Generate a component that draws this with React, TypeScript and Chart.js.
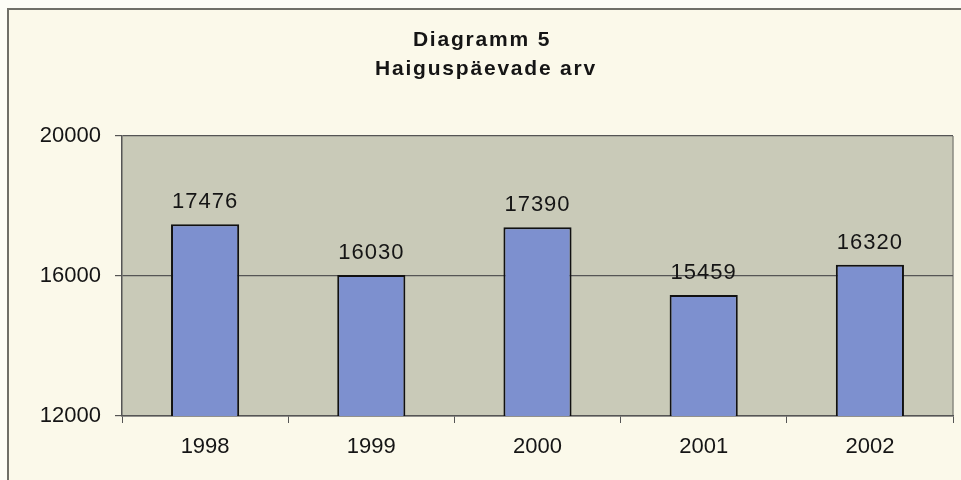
import React, { useEffect, useRef } from "react";
import { Chart, registerables } from "chart.js";

Chart.register(...registerables);

const categories = ["1998", "1999", "2000", "2001", "2002"];
const values = [17476, 16030, 17390, 15459, 16320];
const titleLines = ["Diagramm 5", "Haiguspäevade arv"];
const yMin = 12000;
const yMax = 20000;
const yStep = 4000;

const FONT = "'Liberation Sans', Arial, sans-serif";

const bgPlugin = {
  id: "bgPlugin",
  beforeDraw(chart: any) {
    const { ctx, chartArea, width, height } = chart;
    ctx.save();
    ctx.fillStyle = "#fdfdf6";
    ctx.fillRect(0, 0, width, height);
    ctx.fillStyle = "#fbf9ea";
    ctx.fillRect(8, 9, width - 8, height - 9);
    ctx.fillStyle = "#c9cab8";
    ctx.fillRect(chartArea.left, chartArea.top, chartArea.right - chartArea.left, chartArea.bottom - chartArea.top);
    // plot right border
    ctx.strokeStyle = "#8a8a80";
    ctx.lineWidth = 1.5;
    ctx.beginPath();
    ctx.moveTo(chartArea.right, chartArea.top);
    ctx.lineTo(chartArea.right, chartArea.bottom);
    ctx.stroke();
    // outer frame lines
    ctx.strokeStyle = "#707068";
    ctx.lineWidth = 2;
    ctx.beginPath();
    ctx.moveTo(8, 480);
    ctx.lineTo(8, 9);
    ctx.lineTo(961, 9);
    ctx.stroke();
    // title
    ctx.fillStyle = "#151515";
    ctx.font = `bold 21px ${FONT}`;
    ctx.textAlign = "center";
    ctx.textBaseline = "alphabetic";
    (ctx as any).letterSpacing = "1.8px";
    ctx.fillText(titleLines[0], 482, 46);
    ctx.fillText(titleLines[1], 486, 75);
    ctx.restore();
  },
  afterDatasetsDraw(chart: any) {
    const { ctx } = chart;
    const meta = chart.getDatasetMeta(0);
    ctx.save();
    ctx.fillStyle = "#151515";
    ctx.font = `22px ${FONT}`;
    ctx.textAlign = "center";
    ctx.textBaseline = "alphabetic";
    (ctx as any).letterSpacing = "1px";
    meta.data.forEach((bar: any, i: number) => {
      ctx.fillText(String(values[i]), bar.x, bar.y - 16);
    });
    ctx.restore();
  },
};

export default function App() {
  const ref = useRef<HTMLCanvasElement | null>(null);
  useEffect(() => {
    document.body.style.margin = "0";
    const chart = new Chart(ref.current!, {
      type: "bar",
      data: {
        labels: categories,
        datasets: [
          {
            data: values,
            backgroundColor: "#7d90cf",
            borderColor: "#111",
            borderWidth: 2,
            barPercentage: 0.41,
            categoryPercentage: 1,
          },
        ],
      },
      options: {
        animation: false,
        responsive: false,
        layout: { padding: { top: 136, right: 8, left: 0, bottom: 0 } },
        plugins: { legend: { display: false }, tooltip: { enabled: false } },
        scales: {
          x: {
            offset: true,
            afterFit: (s: any) => {
              s.height = 64;
            },
            grid: {
              offset: true,
              drawOnChartArea: false,
              drawTicks: true,
              tickLength: 7,
              color: "#555",
            },
            border: { color: "#555", width: 1.5 },
            ticks: {
              color: "#151515",
              padding: 11,
              font: { family: FONT, size: 22 },
            },
          },
          y: {
            min: yMin,
            max: yMax,
            afterFit: (s: any) => {
              s.width = 122;
            },
            ticks: {
              stepSize: yStep,
              color: "#151515",
              padding: 14,
              font: { family: FONT, size: 22 },
              callback: (v: any) => String(v),
            },
            grid: { color: "#555", lineWidth: 1.2, tickLength: 7 },
            border: { color: "#555", width: 1.5 },
          },
        },
      },
      plugins: [bgPlugin],
    });
    return () => chart.destroy();
  }, []);
  return (
    <div style={{ width: 961, height: 480 }}>
      <canvas ref={ref} width={961} height={480} />
    </div>
  );
}
